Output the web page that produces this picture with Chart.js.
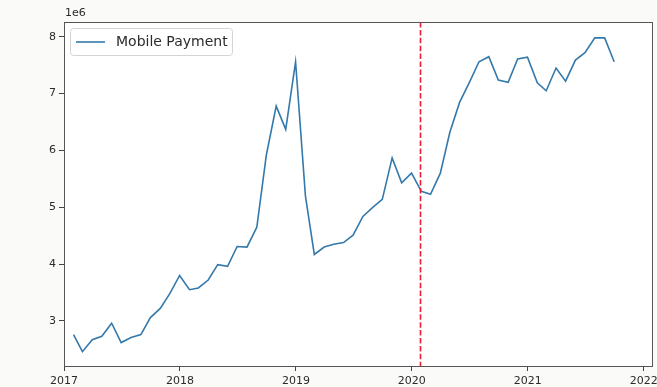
<!DOCTYPE html>
<html>
<head>
<meta charset="utf-8">
<script src="https://cdn.jsdelivr.net/npm/chart.js@4.4.1/dist/chart.umd.min.js"></script>
<style>
  html, body { margin: 0; padding: 0; background: #fafaf8; }
  #wrap { width: 657px; height: 387px; }
</style>
</head>
<body>
<div id="wrap"><canvas id="paymentChart"></canvas></div>
<script>
// monthly observations (month-end)
const months = [
  '2017-01', '2017-02', '2017-03', '2017-04', '2017-05', '2017-06', '2017-07', '2017-08', '2017-09', '2017-10', '2017-11', '2017-12',
  '2018-01', '2018-02', '2018-03', '2018-04', '2018-05', '2018-06', '2018-07', '2018-08', '2018-09', '2018-10', '2018-11', '2018-12',
  '2019-01', '2019-02', '2019-03', '2019-04', '2019-05', '2019-06', '2019-07', '2019-08', '2019-09', '2019-10', '2019-11', '2019-12',
  '2020-01', '2020-02', '2020-03', '2020-04', '2020-05', '2020-06', '2020-07', '2020-08', '2020-09', '2020-10', '2020-11', '2020-12',
  '2021-01', '2021-02', '2021-03', '2021-04', '2021-05', '2021-06', '2021-07', '2021-08', '2021-09'
];

const mobilePayment = [
  2760000, 2460000, 2670000, 2730000, 2960000, 2620000, 2710000, 2760000, 3060000, 3220000, 3480000, 3800000,
  3550000, 3580000, 3720000, 3990000, 3960000, 4310000, 4300000, 4650000, 5920000, 6780000, 6370000, 7560000,
  5200000, 4170000, 4300000, 4350000, 4380000, 4510000, 4840000, 5000000, 5140000, 5870000, 5430000, 5600000,
  5280000, 5230000, 5600000, 6320000, 6850000, 7190000, 7560000, 7650000, 7240000, 7200000, 7610000, 7640000,
  7190000, 7050000, 7450000, 7220000, 7590000, 7720000, 7980000, 7980000, 7560000
];

const yearTicks = [2017, 2018, 2019, 2020, 2021, 2022];
const yTicks = [3e6, 4e6, 5e6, 6e6, 7e6, 8e6];
const eventDate = '2020-01-28';

// date -> fractional year
function toYear(y, m, d) {
  const start = Date.UTC(y, 0, 1);
  const end = Date.UTC(y + 1, 0, 1);
  return y + (Date.UTC(y, m - 1, d) - start) / (end - start);
}
function monthEnd(s) {
  const [y, m] = s.split('-').map(Number);
  const last = new Date(Date.UTC(y, m, 0)).getUTCDate();
  return toYear(y, m, last);
}

const points = months.map((m, i) => ({ x: monthEnd(m), y: mobilePayment[i] }));
const [ey, em, ed] = eventDate.split('-').map(Number);
const eventX = toYear(ey, em, ed);

const textColor = '#2b2b2b';
const lineBlue = '#3479ab';

const decorPlugin = {
    id: 'decor',
    beforeDraw(chart) {
        const { ctx, chartArea: a } = chart;
        ctx.save();
        ctx.fillStyle = '#ffffff';
        ctx.fillRect(a.left, a.top, a.right - a.left, a.bottom - a.top);
        ctx.restore();
    },
    afterDatasetsDraw(chart) {
        const { ctx, chartArea: a, scales } = chart;
        ctx.save();

        // event line
        const ex = Math.round(scales.x.getPixelForValue(eventX)) + 0.5;
        ctx.strokeStyle = '#ec1c36';
        ctx.lineWidth = 1.6;
        ctx.setLineDash([5.5, 2.4]);
        ctx.beginPath();
        ctx.moveTo(ex, a.top);
        ctx.lineTo(ex, a.bottom);
        ctx.stroke();
        ctx.setLineDash([]);

        // frame
        ctx.strokeStyle = '#555555';
        ctx.lineWidth = 1;
        ctx.strokeRect(a.left + 0.5, a.top + 0.5, a.right - a.left - 1, a.bottom - a.top - 1);

        // offset label
        ctx.fillStyle = textColor;
        ctx.font = '11px "DejaVu Sans"';
        ctx.textAlign = 'left';
        ctx.textBaseline = 'bottom';
        ctx.fillText('1e6', a.left + 1, a.top - 3);

        // legend
        const lx = a.left + 6, ly = a.top + 6, lw = 162, lh = 27;
        ctx.fillStyle = 'rgba(255,255,255,0.8)';
        ctx.strokeStyle = '#d4d4d4';
        ctx.beginPath();
        ctx.roundRect(lx + 0.5, ly + 0.5, lw, lh, 3);
        ctx.fill();
        ctx.stroke();
        ctx.strokeStyle = lineBlue;
        ctx.lineWidth = 1.6;
        ctx.beginPath();
        ctx.moveTo(lx + 6, ly + 14);
        ctx.lineTo(lx + 35, ly + 14);
        ctx.stroke();
        ctx.fillStyle = textColor;
        ctx.font = '14px "DejaVu Sans"';
        ctx.textBaseline = 'middle';
        ctx.fillText('Mobile Payment', lx + 46, ly + 14.5);

        ctx.restore();
    }
};

new Chart(document.getElementById('paymentChart'), {
    type: 'line',
    data: {
        datasets: [{
            label: 'Mobile Payment',
            data: points,
            borderColor: lineBlue,
            borderWidth: 1.6,
            pointRadius: 0,
            tension: 0,
            fill: false
        }]
    },
    options: {
        responsive: true,
        maintainAspectRatio: false,
        animation: false,
        layout: {
            padding: { top: 22, right: 4, left: 0, bottom: 0 }
        },
        plugins: {
            legend: { display: false },
            tooltip: { enabled: false }
        },
        scales: {
            x: {
                type: 'linear',
                min: 2017,
                max: 2022.08,
                afterBuildTicks: s => { s.ticks = yearTicks.map(v => ({ value: v })); },
                afterFit: s => { s.height = 20; s.paddingLeft = 0; s.paddingRight = 0; },
                border: { display: false },
                grid: { drawOnChartArea: false, tickLength: 4, tickColor: '#444', tickWidth: 1 },
                ticks: {
                    color: textColor,
                    padding: 4,
                    maxRotation: 0,
                    font: { family: 'DejaVu Sans', size: 11 },
                    callback: v => String(v)
                }
            },
            y: {
                min: 2.19e6,
                max: 8.26e6,
                afterBuildTicks: s => { s.ticks = yTicks.map(v => ({ value: v })); },
                afterFit: s => { s.width = 64; s.paddingTop = 0; s.paddingBottom = 0; },
                border: { display: false },
                grid: { drawOnChartArea: false, tickLength: 5, tickColor: '#444', tickWidth: 1 },
                ticks: {
                    color: textColor,
                    padding: 3,
                    font: { family: 'DejaVu Sans', size: 11 },
                    callback: v => String(v / 1e6)
                }
            }
        }
    },
    plugins: [decorPlugin]
});
</script>
</body>
</html>
